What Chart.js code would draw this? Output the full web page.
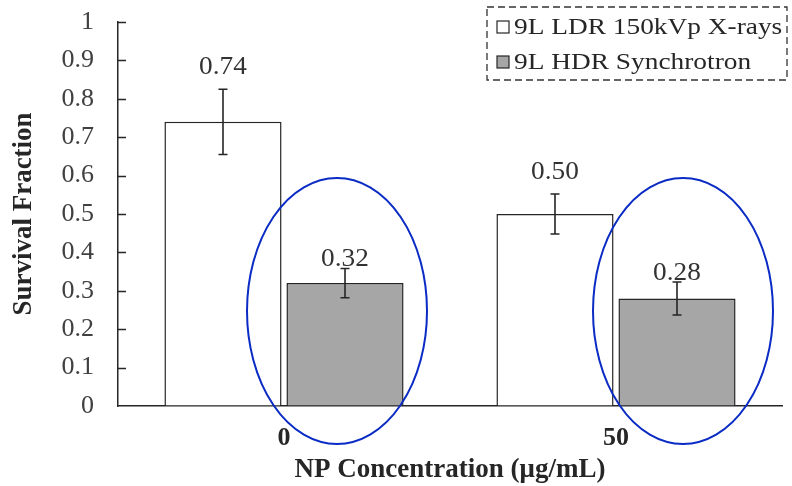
<!DOCTYPE html>
<html>
<head>
<meta charset="utf-8">
<script src="https://cdn.jsdelivr.net/npm/chart.js@4.4.1/dist/chart.umd.min.js"></script>
<style>
  html, body { margin: 0; padding: 0; background: #ffffff; }
  #wrap { width: 792px; height: 486px; position: relative; }
  canvas { display: block; }
</style>
</head>
<body>
<div id="wrap"><canvas id="chart" width="792" height="486"></canvas></div>
<script>
// Survival fraction of 9L cells by nanoparticle concentration
const categories = ['0', '50'];
const seriesNames = ['9L LDR 150kVp X-rays', '9L HDR Synchrotron'];
const ldrValues = [0.74, 0.50];
const hdrValues = [0.32, 0.28];
const ldrErrors = [0.085, 0.052];
const hdrErrors = [0.038, 0.043];
const yTickValues = [0, 0.1, 0.2, 0.3, 0.4, 0.5, 0.6, 0.7, 0.8, 0.9, 1];

const SERIF = '"Liberation Serif", "Times New Roman", serif';
const errorSets = [ldrErrors, hdrErrors];
const labelGap = [22, 9];

// inward-pointing tick marks on the value axis
const innerTicks = {
  id: 'innerTicks',
  afterDraw(chart) {
    const { ctx, scales: { y } } = chart;
    ctx.save();
    ctx.strokeStyle = '#262626';
    ctx.lineWidth = 1.3;
    ctx.beginPath();
    y.ticks.forEach(t => {
      if (t.value === 0) return;
      const py = Math.round(y.getPixelForValue(t.value)) + 0.5;
      ctx.moveTo(y.right - 1, py);
      ctx.lineTo(y.right + 8, py);
    });
    ctx.stroke();
    ctx.restore();
  }
};

// error bars + value labels on each bar
const barExtras = {
  id: 'barExtras',
  afterDatasetsDraw(chart) {
    const { ctx, scales: { y } } = chart;
    chart.data.datasets.forEach((ds, di) => {
      const meta = chart.getDatasetMeta(di);
      meta.data.forEach((bar, i) => {
        const v = ds.data[i];
        const e = errorSets[di][i];
        const yt = y.getPixelForValue(v + e);
        const yb = y.getPixelForValue(v - e);
        ctx.save();
        ctx.strokeStyle = '#262626';
        ctx.lineWidth = 1.6;
        ctx.beginPath();
        ctx.moveTo(bar.x, yt); ctx.lineTo(bar.x, yb);
        ctx.moveTo(bar.x - 4.5, yt); ctx.lineTo(bar.x + 4.5, yt);
        ctx.moveTo(bar.x - 4.5, yb); ctx.lineTo(bar.x + 4.5, yb);
        ctx.stroke();
        ctx.fillStyle = '#333333';
        ctx.font = '26px ' + SERIF;
        ctx.textAlign = 'center';
        ctx.textBaseline = 'middle';
        ctx.translate(bar.x, yt - labelGap[di]);
        ctx.scale(1.05, 1);
        ctx.fillText(v.toFixed(2), 0, 0);
        ctx.restore();
      });
    });
  }
};

// blue ellipses highlighting the synchrotron bars
const highlight = {
  id: 'highlight',
  afterDraw(chart) {
    const { ctx, scales: { y } } = chart;
    const meta = chart.getDatasetMeta(1);
    const base = y.getPixelForValue(0);
    ctx.save();
    ctx.strokeStyle = '#0a2bc4';
    ctx.lineWidth = 2;
    meta.data.forEach((bar, i) => {
      const cx = i === 0 ? bar.x - 8 : bar.x + 6;
      ctx.beginPath();
      ctx.ellipse(cx, base - 95, 90, 133, 0, 0, Math.PI * 2);
      ctx.stroke();
    });
    ctx.restore();
  }
};

// dashed legend box in the upper right corner
const boxLegend = {
  id: 'boxLegend',
  afterDraw(chart) {
    const { ctx } = chart;
    const x0 = 487, y0 = 7, w = 300, h = 73;
    ctx.save();
    ctx.strokeStyle = '#333333';
    ctx.lineWidth = 1.3;
    ctx.setLineDash([7, 4]);
    ctx.strokeRect(x0, y0, w, h);
    ctx.setLineDash([]);
    chart.data.datasets.forEach((ds, i) => {
      const cy = 27 + i * 35;
      ctx.fillStyle = ds.backgroundColor;
      ctx.fillRect(497, cy - 6, 12, 12);
      ctx.strokeStyle = '#262626';
      ctx.lineWidth = 1.2;
      ctx.strokeRect(497, cy - 6, 12, 12);
      ctx.save();
      ctx.fillStyle = '#262626';
      ctx.font = '24px ' + SERIF;
      ctx.textAlign = 'left';
      ctx.textBaseline = 'middle';
      ctx.translate(514, cy + 1);
      ctx.scale(1.14, 1);
      ctx.fillText(ds.label, 0, 0);
      ctx.restore();
    });
    ctx.restore();
  }
};

new Chart(document.getElementById('chart'), {
  type: 'bar',
  data: {
    labels: categories,
    datasets: [
      { label: seriesNames[0], data: ldrValues, backgroundColor: '#ffffff',
        borderColor: '#262626', borderWidth: 1.5 },
      { label: seriesNames[1], data: hdrValues, backgroundColor: '#a6a6a6',
        borderColor: '#262626', borderWidth: 1.5 }
    ]
  },
  options: {
    responsive: false,
    animation: false,
    devicePixelRatio: 1,
    layout: { padding: { left: 0, right: 10, top: 22, bottom: 0 } },
    categoryPercentage: 0.735,
    barPercentage: 0.96,
    plugins: { legend: { display: false }, tooltip: { enabled: false } },
    scales: {
      x: {
        grid: { display: false, drawTicks: false },
        border: { display: true, color: '#262626', width: 1.5 },
        ticks: { color: '#262626', font: { family: SERIF, size: 26, weight: 'bold' }, padding: 17 },
        title: { display: true, text: 'NP Concentration (μg/mL)', color: '#262626',
                 font: { family: SERIF, size: 27, weight: 'bold' }, padding: { top: 0, bottom: 0 } },
        afterFit(s) { s.height = 80; }
      },
      y: {
        min: 0, max: 1,
        afterBuildTicks(s) { s.ticks = yTickValues.map(v => ({ value: v })); },
        grid: { drawOnChartArea: false, drawTicks: false },
        border: { display: true, color: '#262626', width: 1.5 },
        ticks: { color: '#404040', font: { family: SERIF, size: 26 }, padding: 24,
                 callback: v => String(Number(v.toFixed(1))) },
        title: { display: true, text: 'Survival Fraction', color: '#262626',
                 font: { family: SERIF, size: 27, weight: 'bold' }, padding: { top: 8, bottom: 0 } },
        afterFit(s) { s.width = 118; s.paddingTop = 0; s.paddingBottom = 0; }
      }
    }
  },
  plugins: [innerTicks, barExtras, highlight, boxLegend]
});
</script>
</body>
</html>
